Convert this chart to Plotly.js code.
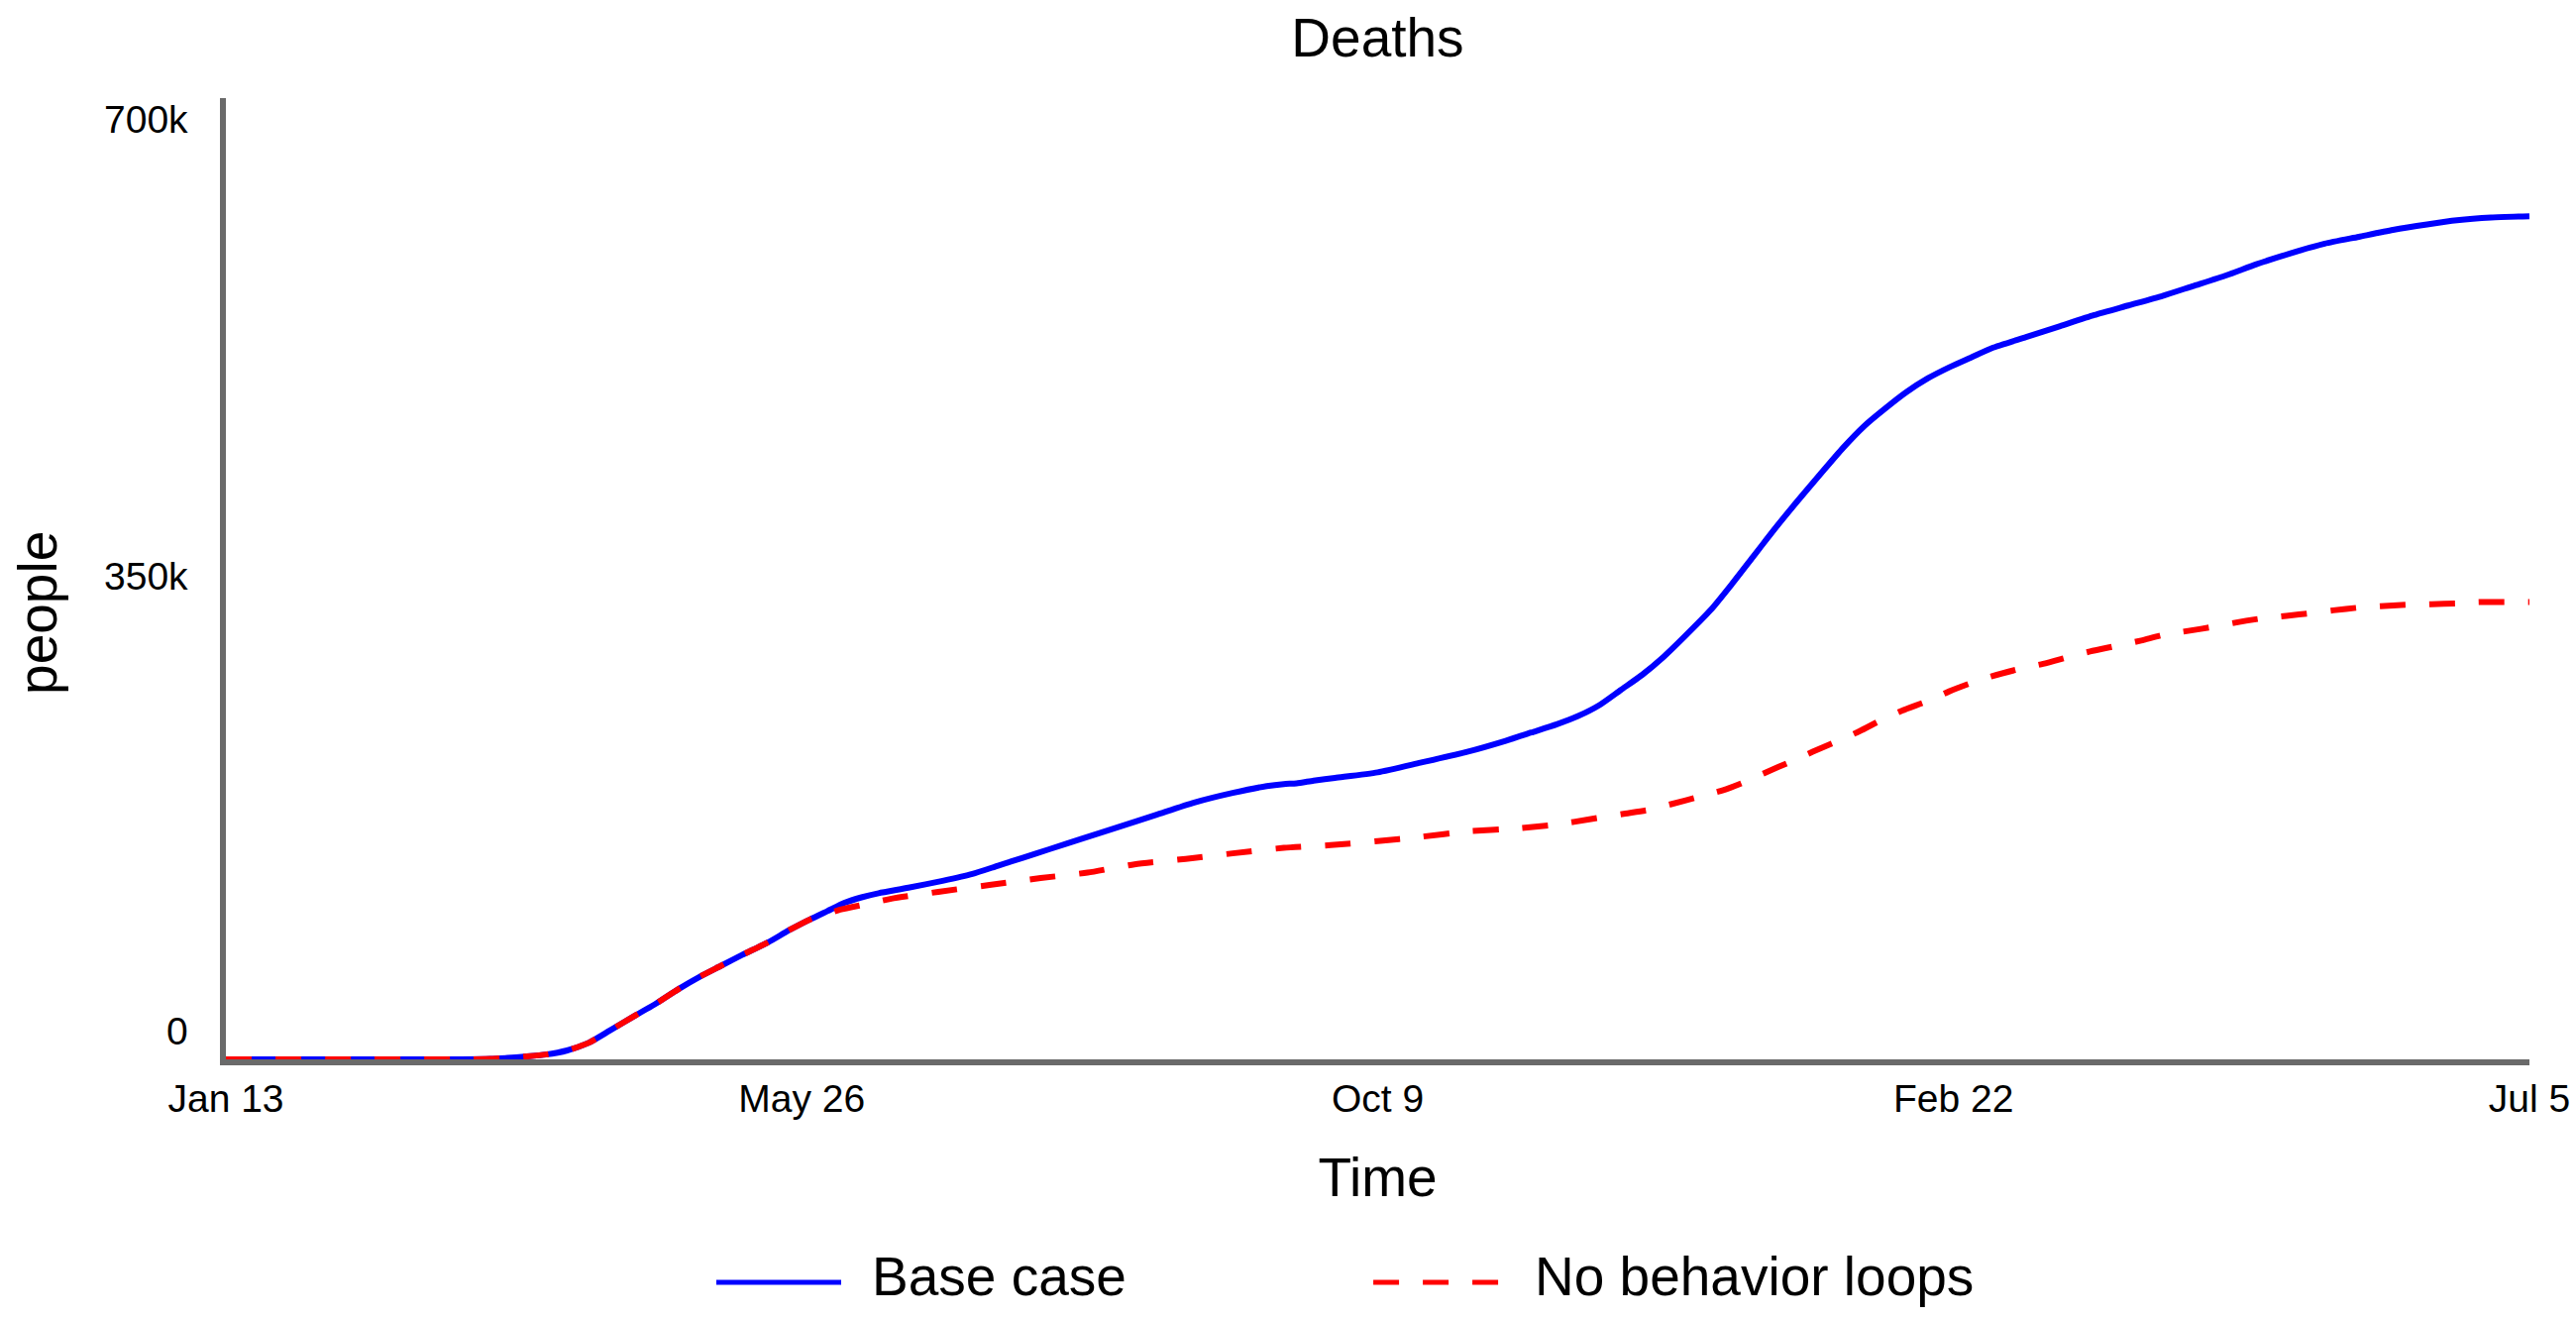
<!DOCTYPE html>
<html>
<head>
<meta charset="utf-8">
<script src="https://cdn.plot.ly/plotly-3.0.1.min.js"></script>
<style>
  html, body { margin: 0; padding: 0; background: #ffffff; }
  #chart { width: 2600px; height: 1331px; }
</style>
</head>
<body>
<div id="chart"></div>
<script>
// ---- data (days since Jan 13; deaths in thousands of people) ----
const tickDays = [0, 135, 270, 405, 540];
const tickLabels = ["Jan 13", "May 26", "Oct 9", "Feb 22", "Jul 5"];

const yTickValues = [0, 350000, 700000];
const yTickLabels = ["0", "350k", "700k"];

const seriesNames = ["Base case", "No behavior loops"];

const baseDays = [0, 55, 62, 66, 70, 75, 80, 85, 90, 96, 101, 106, 111, 116, 121, 127, 132, 137, 141, 145, 149, 153, 160, 168, 175, 181, 187, 193, 201, 209, 218, 227, 236, 244, 248, 251, 255, 260, 270, 280, 291, 300, 306, 312, 317, 322, 327, 332, 337, 342, 348, 353, 358, 363, 368, 374, 379, 384, 389, 394, 399, 404, 409, 414, 422, 430, 438, 446, 454, 461, 469, 476, 484, 492, 500, 508, 516, 523, 531, 540];
const baseDeathsK = [0, 0, 0.3, 1, 2, 3.5, 6.5, 12, 21, 32, 41, 51, 60, 68, 76, 85, 94, 102, 108, 114, 118, 121, 125, 130, 135, 141, 147, 153, 161, 169, 178, 187, 194, 199, 200.5, 201, 203, 205, 209, 216, 224, 232, 238, 244, 250, 258, 269, 280, 293, 308, 327, 346, 366, 386, 405, 427, 445, 461, 474, 486, 496, 504, 511, 518, 526, 534, 542, 549, 556, 563, 571, 579, 587, 594, 599, 604, 608, 611, 613, 614];

const noLoopDays = [0, 55, 62, 66, 70, 75, 80, 85, 90, 96, 101, 106, 111, 116, 121, 127, 132, 137, 141, 144, 150, 156, 167, 179, 191, 202, 213, 225, 236, 248, 259, 270, 280, 291, 302, 312, 320, 328, 334, 339, 345, 351, 356, 361, 367, 372, 378, 383, 388, 393, 399, 404, 409, 414, 420, 426, 432, 437, 443, 449, 454, 460, 466, 471, 477, 483, 489, 494, 500, 505, 511, 517, 523, 528, 534, 540];
const noLoopDeathsK = [0, 0, 0.3, 1, 2, 3.5, 6.5, 12, 21, 32, 41, 51, 60, 68, 76, 85, 94, 102, 106, 109, 113, 117, 122, 127, 132, 136, 142, 146, 150, 154, 156, 159, 162, 166, 168, 171, 175, 179, 182, 186, 191, 196, 202, 209, 217, 224, 232, 239, 247, 254, 261, 268, 274, 279, 284, 288, 293, 297, 301, 305, 309, 312, 315, 318, 321, 323, 325, 327, 329, 330, 331, 331.5, 332, 333, 333, 333];

// ---- styling ----
const FONT = "Liberation Sans, Arial, Helvetica, sans-serif";
const AXIS_GREY = "#6a6a6a";
const BLUE = "#0000ff";
const RED = "#ff0000";
const RED_DASH = "26px,24px";

const toPeople = arr => arr.map(v => v * 1000);

const traces = [
  {
    x: baseDays, y: toPeople(baseDeathsK), name: seriesNames[0],
    type: "scatter", mode: "lines",
    line: { color: BLUE, width: 6, shape: "spline", smoothing: 0.6 },
    showlegend: false, hoverinfo: "x+y"
  },
  {
    x: noLoopDays, y: toPeople(noLoopDeathsK), name: seriesNames[1],
    type: "scatter", mode: "lines",
    line: { color: RED, width: 6, dash: RED_DASH, shape: "spline", smoothing: 0.6 },
    showlegend: false, hoverinfo: "x+y"
  }
];

// y tick labels as annotations (clamped inside the axis span like the original)
const yLabelShift = [29, 3, -21];
const annotations = yTickValues.map((v, i) => ({
  x: 0, xref: "paper", xanchor: "right", xshift: -36,
  y: v, yref: "y", yanchor: "middle", yshift: yLabelShift[i],
  text: yTickLabels[i], showarrow: false,
  font: { family: FONT, size: 39, color: "#000" }
}));

// y axis title
annotations.push({
  x: 0, xref: "paper", xanchor: "center", xshift: -190,
  y: 0.464, yref: "paper", yanchor: "middle",
  text: "people", textangle: -90, showarrow: false,
  font: { family: FONT, size: 55, color: "#000" }
});

// custom legend (long sample lines like the original)
const legendItems = [
  { name: seriesNames[0], color: BLUE, dash: "solid", x0: 0.2129, x1: 0.2671, tx: 0.2796 },
  { name: seriesNames[1], color: RED, dash: RED_DASH, x0: 0.4981, x1: 0.5523, tx: 0.5673 }
];
const shapes = legendItems.map(it => ({
  type: "line", xref: "paper", yref: "paper",
  x0: it.x0, x1: it.x1, y0: -0.232, y1: -0.232,
  line: { color: it.color, width: 5, dash: it.dash }
}));
legendItems.forEach(it => annotations.push({
  x: it.tx, xref: "paper", xanchor: "left",
  y: -0.2258, yref: "paper", yanchor: "middle",
  text: it.name, showarrow: false,
  font: { family: FONT, size: 55, color: "#000" }
}));

const layout = {
  width: 2600, height: 1331,
  paper_bgcolor: "#ffffff", plot_bgcolor: "#ffffff",
  margin: { l: 228, r: 47, t: 99, b: 262, pad: 0 },
  font: { family: FONT, color: "#000" },
  title: {
    text: "Deaths", font: { family: FONT, size: 55, color: "#000" },
    x: 0.5, xref: "paper", xanchor: "center",
    y: 1 - 38 / 1331, yref: "container", yanchor: "middle"
  },
  xaxis: {
    range: [0, 540], tickvals: tickDays, ticktext: tickLabels,
    showgrid: false, zeroline: false, ticks: "",
    showline: true, linecolor: AXIS_GREY, linewidth: 6,
    tickfont: { family: FONT, size: 39, color: "#000" },
    title: { text: "Time", font: { family: FONT, size: 55, color: "#000" }, standoff: 42 },
    fixedrange: true
  },
  yaxis: {
    range: [0, 700000], tickvals: yTickValues,
    showticklabels: false,
    showgrid: false, zeroline: false, ticks: "",
    showline: true, linecolor: AXIS_GREY, linewidth: 6,
    fixedrange: true
  },
  showlegend: false,
  annotations: annotations,
  shapes: shapes
};

Plotly.newPlot("chart", traces, layout, { displayModeBar: false, staticPlot: true });
</script>
</body>
</html>
